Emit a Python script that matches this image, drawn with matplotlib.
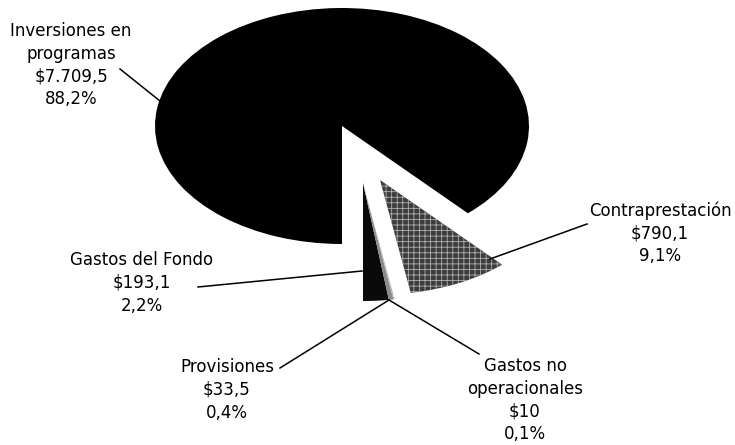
import numpy as np
import matplotlib
matplotlib.use("Agg")
import matplotlib.pyplot as plt

# data, in the drawing order (counterclockwise from the bottom)
labels = ["Gastos del Fondo", "Provisiones", "Gastos no\noperacionales",
          "Contraprestación", "Inversiones en\nprogramas"]
values = [193.1, 33.5, 10, 790.1, 7709.5]
amounts = ["$193,1", "$33,5", "$10", "$790,1", "$7.709,5"]
shares = ["2,2%", "0,4%", "0,1%", "9,1%", "88,2%"]

W, H = 735, 445
cx, cy = 342, 126          # pie centre in pixels (from top-left)
rx, ry = 187, 118          # semi axes in pixels

plt.rcParams['font.family'] = ['DejaVu Sans']
plt.rcParams['hatch.linewidth'] = 0.6

fig = plt.figure(figsize=(W / 100, H / 100), dpi=100)
ax = fig.add_axes([0, 0, 1, 1])

wedges, _ = ax.pie(values, startangle=-90, counterclock=True,
                   colors=["#0a0a0a", "#8a8a8a", "#b5b5b5", "#3c3c3c", "black"],
                   wedgeprops=dict(linewidth=0))
ax.set_aspect("auto")
ax.set_xlim(-cx / rx, (W - cx) / rx)
ax.set_ylim(-(H - cy) / ry, cy / ry)
ax.axis("off")


def px(x, y):
    return (x - cx) / rx, (cy - y) / ry


# pulled-out slices: new apex in pixels
for i, apex in [(0, (363, 183)), (1, (363, 183)), (2, (363, 183)), (3, (380, 180))]:
    wedges[i].set_center(px(*apex))
wedges[3].set_radius(0.97)
wedges[3].set_hatch("+++")
wedges[3].set_edgecolor("#b0b0b0")
wedges[3].set_linewidth(0)

# label text centre (x, first line y), line start, line end -- in pixels
place = {
    4: ((71, 31), (120, 69), (160, 101)),
    3: ((660, 210), (587, 224), (490, 259)),
    0: ((142, 260), (198, 287), (362, 271)),
    1: ((227, 367), (280, 368), (389, 300)),
    2: ((525, 366), (479, 354), (389, 300)),
}

for i in range(len(values)):
    (tx, ty), p0, p1 = place[i]
    txt = labels[i] + "\n" + amounts[i] + "\n" + shares[i]
    ax.text(*px(tx, ty - 9), txt, ha="center", va="top", fontsize=12,
            linespacing=1.34, color="black")
    ax.plot([px(*p0)[0], px(*p1)[0]], [px(*p0)[1], px(*p1)[1]],
            color="black", lw=1.1)

fig.savefig("out.png", dpi=100, facecolor="white")
